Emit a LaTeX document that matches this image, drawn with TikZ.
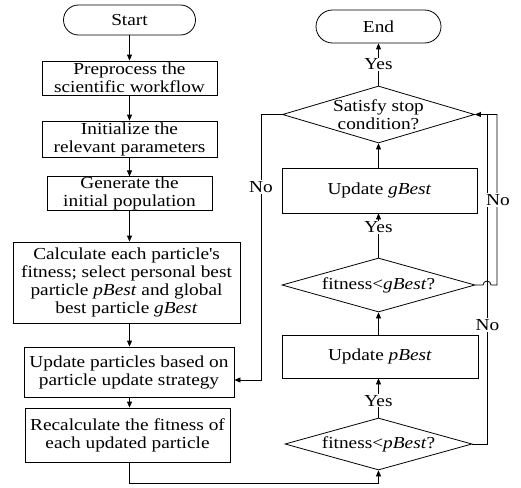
\documentclass[tikz,border=0pt]{standalone}
\usepackage{fontspec}
\setmainfont{Liberation Serif}[FakeStretch=1.15]
\usetikzlibrary{shapes.geometric,shapes.misc,arrows.meta,calc}
\begin{document}
\begin{tikzpicture}[x=1pt,y=1pt,
  every node/.style={font=\fontsize{16.8}{18}\selectfont, inner sep=0pt},
  proc/.style={draw, line width=0.8pt, align=center},
  term/.style={draw, line width=0.8pt, rounded rectangle},
  dia/.style={draw, line width=0.8pt, diamond},
  lab/.style={fill=white, inner sep=1pt},
  arr/.style={line width=0.8pt, -{Triangle[length=6pt,width=5pt]}},
  ln/.style={line width=0.8pt}
]
\path[use as bounding box] (0,0) rectangle (521,-487);

% left column
\node[term, minimum width=132, minimum height=30] (start) at (129.5,-20) {Start};
\node[proc, minimum width=175, minimum height=34] (b1) at (129.5,-78) {Preprocess the\\scientific workflow};
\node[proc, minimum width=175, minimum height=36] (b2) at (129.5,-139) {Initialize the\\relevant parameters};
\node[proc, minimum width=165, minimum height=33] (b3) at (129.5,-193.5) {Generate the\\initial population};
\node[proc, minimum width=227, minimum height=81] (b4) at (126.5,-282.5) {Calculate each particle\textquotesingle s\\fitness; select personal best\\particle \textit{pBest} and global\\best particle \textit{gBest}};
\node[proc, minimum width=210, minimum height=50] (b5) at (129,-372) {Update particles based on\\particle update strategy};
\node[proc, minimum width=205, minimum height=54] (b6) at (127.5,-435) {Recalculate the fitness of\\each updated particle};

% right column
\node[term, minimum width=125, minimum height=33] (end) at (378.5,-26.5) {End};
\node[dia, minimum width=192, minimum height=57, label={[align=center]center:Satisfy stop\\condition?}] (d1) at (378.5,-114.5) {};
\node[proc, minimum width=195, minimum height=45] (gb) at (379.5,-190.5) {Update \textit{gBest}};
\node[dia, minimum width=193, minimum height=54, label={center:fitness\textless\textit{gBest}?}] (d2) at (378.5,-285) {};
\node[proc, minimum width=196, minimum height=43] (pb) at (380,-356.5) {Update \textit{pBest}};
\node[dia, minimum width=187, minimum height=52, label={center:fitness\textless\textit{pBest}?}] (d3) at (378.5,-444) {};

% left arrows
\draw[arr] (start.south) -- (start.south |- b1.north);
\draw[arr] (b1.south) -- (b1.south |- b2.north);
\draw[arr] (b2.south) -- (b2.south |- b3.north);
\draw[arr] (b3.south) -- (b3.south |- b4.north);
\draw[arr] (b3.south |- b4.south) -- (b3.south |- b5.north);
\draw[arr] (b3.south |- b5.south) -- (b3.south |- b6.north);

% loop from b6 to d3
\coordinate (j2) at (129.5,-483);
\draw[arr] (b3.south |- b6.south) -- (j2) -| (d3.south);

% right arrows
\draw[arr] (d3.north) -- (pb.south -| d3.north) node[lab, pos=0.43] (y3) {Yes};
\draw[arr] (pb.north -| d2.south) -- (d2.south);
\draw[arr] (d2.north) -- (gb.south -| d2.north) node[lab, pos=0.68] (y2) {Yes};
\draw[arr] (gb.north -| d1.south) -- (d1.south);
\draw[arr] (d1.north) -- (end.south -| d1.north) node[lab, pos=0.5] (y1) {Yes};

% No from d1 to b5
\coordinate (j1) at (261,-380);
\draw[arr] (d1.west) -| (j1) -- (j1 -| b5.east);
\node[lab] (n1) at (261,-187) {No};

% No from d3 up to d1
\coordinate (j4) at (487,-114.5);
\draw[ln] (d3.east) -| (j4);
\node[lab] (n3) at (487.5,-325) {No};

% No from d2 (with jump) to d1
\coordinate (j3) at (497,-114.5);
\draw[arr] (d2.east) -- (483,-285) arc[start angle=180,end angle=0,radius=4] -- (497,-285) -- (j3) -- (d1.east);
\node[lab] (n2) at (498,-200) {No};
\end{tikzpicture}
\end{document}
